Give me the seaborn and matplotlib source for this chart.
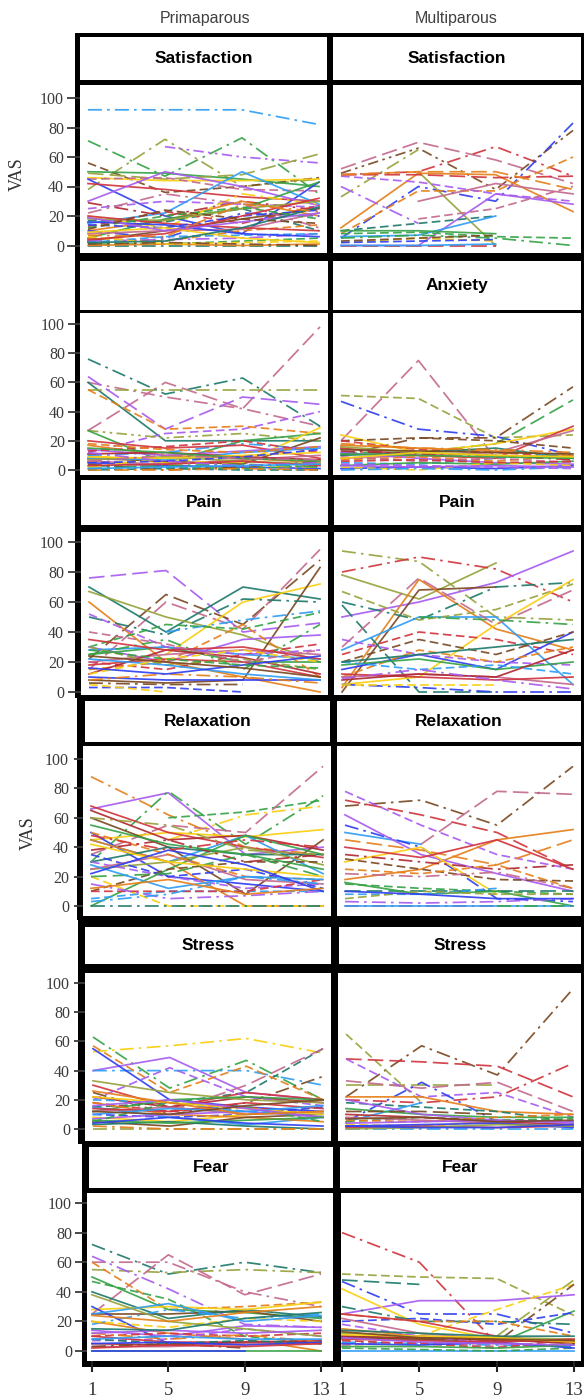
import numpy as np
import pandas as pd
import matplotlib
matplotlib.use("Agg")
import matplotlib.pyplot as plt
import seaborn as sns
from matplotlib.patches import Rectangle

N = np.nan

# ---------------- data ----------------
times = [1, 5, 9, 13]
x_tick_labels = ["1", "5", "9", "13"]
y_ticks = [0, 20, 40, 60, 80, 100]
groups = ["Primaparous", "Multiparous"]
measures = ["Satisfaction", "Anxiety", "Pain", "Relaxation", "Stress", "Fear"]

sat_prim = [
    [92, 92, 92, 82], [71, 47, 73, 35], [38, 72, 40, 45], [N, 67, 60, 56],
    [56, 36, 40, 46], [50, 49, 45, 40], [49, 45, 48, 62], [46, 44, 44, 45],
    [45, 46, 38, 37], [45, 20, 8, 43], [42, 38, 33, 30], [29, 20, 30, 24],
    [30, 50, 40, 27], [25, 30, 28, 26], [15, 22, 50, 28], [10, 17, 30, 20],
    [5, 18, 25, 43], [17, 16, 25, 10], [20, 12, 35, 28], [13, 23, 15, 27],
    [10, 5, 22, 20], [3, 10, 18, 25], [8, 10, 11, 22], [18, 17, 25, 30],
    [5, 3, 10, 14], [3, 4, 5, 8], [2, 6, 7, 8], [1, 1, 3, 5],
    [0, 0, 0, 0], [0, 1, 0, 1], [6, 1, 2, 3], [1, 2, 1, 0],
    [20, 15, 12, 10], [14, 12, 20, 24], [22, 35, 28, 12],
    [16, 14, 8, 6], [12, 20, 26, 18], [4, 8, 20, 32], [9, 12, 5, 2],
    [19, 10, 16, 22], [2, 3, 12, 26], [7, 6, 28, 23], [11, 24, 18, 15],
]
sat_multi = [
    [52, 70, 58, 42], [48, 50, 67, 47], [49, 66, 38, 78], [5, 40, 30, 83],
    [33, 65, N, N], [N, 50, 0, N], [12, 49, 48, 23], [8, 37, 37, 60],
    [48, 48, 46, 47], [40, 15, N, N], [0, 0, 35, 28], [47, 43, 35, 30],
    [N, 18, 25, 40], [10, 15, 20, N], [6, 7, 20, N], [8, 9, 6, 5],
    [5, 7, 5, 0], [0, 0, 0, N], [0, 0, 1, N], [2, 5, 3, N],
    [3, 5, 7, N], [N, 30, 42, 35], [48, 50, 50, 38], [10, 10, 8, N],
    [2, 3, 4, N],
]
anx_prim = [
    [27, 60, 42, 98], [60, 50, 42, 30], [76, 52, 63, 30], [60, 20, 20, 20],
    [55, 55, 55, 55], [64, 28, 50, 45], [12, 25, 28, 40], [55, 28, 30, 25],
    [27, 22, 25, 20], [27, 5, 20, 25], [10, 5, 5, 29], [10, 12, 18, 14],
    [20, 15, 17, 8], [17, 10, 8, 5], [8, 6, 4, 22], [5, 3, 2, 1],
    [3, 2, 1, 3], [14, 10, 13, 16], [13, 16, 20, 12], [6, 4, 7, 10],
    [2, 8, 3, 2], [0, 1, 0, 0], [8, 7, 12, 15], [4, 0, 2, 6],
    [11, 12, 9, 7], [1, 3, 4, 2], [0, 0, 1, 0], [7, 9, 6, 4],
    [9, 8, 10, 12], [15, 12, 8, 6], [5, 6, 9, 14], [3, 4, 6, 3],
    [12, 6, 3, 5], [18, 14, 12, 16], [1, 2, 3, 4], [6, 10, 8, 7],
]
anx_multi = [
    [20, 75, 8, N], [51, 49, 22, 24], [47, 28, 23, 10], [10, 22, 22, 57],
    [12, 12, 18, 48], [24, 12, 18, 28], [15, 10, 8, 30], [8, 10, 12, 27],
    [20, 22, 20, 15], [20, 14, 12, 9], [17, 15, 13, 10], [12, 8, 5, 4],
    [10, 12, 15, 8], [5, 4, 8, 12], [3, 5, 4, 6], [1, 2, 1, 3],
    [7, 9, 6, 10], [13, 11, 10, 7], [2, 0, 5, 3], [16, 12, 10, 9],
    [0, 1, 0, 2], [9, 6, 8, 5], [4, 3, 2, 1],
    [14, 13, 12, 11], [11, 10, 9, 8], [6, 7, 5, 6], [18, 15, 14, 12],
    [3, 2, 3, 2], [8, 12, 10, 9],
]
pain_prim = [
    [76, 81, 40, 46], [22, 65, 45, 88], [15, 60, 42, 95], [70, 40, 70, 62],
    [67, 50, 38, 20], [N, 25, 60, 72], [8, 6, 8, 83], [60, 20, 10, 0],
    [50, 38, 62, 60], [N, 40, 48, 54], [30, 45, 42, 53], [30, 20, 35, 38],
    [25, 30, 20, 20], [20, 15, 25, 32], [28, 30, 25, 22], [10, 8, 8, 8],
    [15, 20, 45, 10], [20, 25, 28, 25], [3, 3, 0, N], [5, 0, N, N],
    [18, 22, 20, 10], [6, 5, 5, N], [25, 35, 15, 45], [12, 28, 23, 12],
    [52, 30, 25, 28], [30, 18, 22, 15], [8, 12, 10, 6],
    [22, 18, 12, 8], [35, 28, 30, 22], [12, 22, 28, 20], [16, 12, 18, 24],
    [40, 32, 20, 28], [24, 20, 16, 10], [28, 22, 18, 16],
]
pain_multi = [
    [94, 87, 50, 48], [78, 62, 86, N], [80, 90, 82, 60], [50, 60, 73, 94],
    [0, 68, 70, N], [3, 75, 42, 28], [60, 48, 70, 73], [58, 0, 0, N],
    [28, 50, 50, 5], [67, 48, 55, 72], [5, 10, 45, 75], [30, 76, 45, 68],
    [N, 50, 48, 45], [25, 40, 35, 25], [15, 25, 15, 40], [20, 35, 25, 40],
    [35, 25, 20, 18], [10, 28, 20, 30], [5, 3, 0, 0], [5, 5, 5, N],
    [18, 22, 15, 20], [10, 12, 10, 5], [12, 10, 8, 10], [8, 12, 10, 28],
    [20, 15, 18, 12], [9, 15, 8, 2], [20, 25, 30, 35],
]
relax_prim = [
    [88, 62, 40, 35], [66, 77, 35, 40], [30, 78, 42, 75], [N, 60, 64, 72],
    [N, 45, 62, 68], [35, 55, 50, 95], [45, 50, 47, 52], [68, 50, 40, 33],
    [65, 45, 48, 38], [60, 40, 8, 45], [50, 20, 15, 10], [45, 30, 48, 22],
    [45, 30, 0, 0], [30, 40, 35, 35], [0, 25, 48, 35], [25, 30, 40, 28],
    [10, 25, 30, 30], [30, 20, 12, 15], [20, 0, 0, 0], [0, 0, 0, 0],
    [5, 10, 10, 10], [35, 20, 25, 12], [10, 10, 10, 18], [25, 35, 18, 15],
    [50, 35, 20, 18], [38, 45, 30, 35], [20, 22, 35, 20], [15, 5, 7, 10],
    [3, 8, 20, 15], [60, 55, 38, 35],
    [42, 30, 25, 20], [28, 12, 20, 18], [55, 42, 35, 25], [22, 38, 28, 10],
    [12, 18, 8, 12], [48, 38, 45, 40],
]
relax_multi = [
    [68, 72, 55, 95], [N, 42, 78, 76], [72, 62, 50, 25], [78, 55, 35, 25],
    [18, 25, 45, 52], [45, 38, 28, 45], [50, 42, N, N], [55, 40, 5, 3],
    [62, 35, 22, 10], [30, 40, 8, N], [35, 30, 25, 28], [32, 25, 18, 17],
    [15, 12, 10, 8], [10, 10, 10, 10], [16, 8, 10, 0], [8, 8, 12, N],
    [22, 20, 23, 12], [5, 10, 8, 8], [3, 2, 3, 5], [0, 0, 0, N],
    [0, 0, 0, 0], [N, N, 0, 0], [40, 33, 45, 25], [10, 8, 5, 5],
    [25, 22, 28, 12],
]
stress_prim = [
    [53, 57, 62, 52], [63, 28, 47, 20], [40, 49, 25, 20], [40, 40, 40, 30],
    [55, 20, 15, 12], [25, 10, 18, 36], [15, 18, 25, 55], [N, 12, 30, 55],
    [57, 25, 43, 20], [30, 15, 25, 20], [22, 15, 22, 18], [20, 42, 22, 16],
    [33, 25, 20, 18], [18, 12, 15, 10], [12, 20, 22, 20], [10, 8, 10, 15],
    [15, 8, 3, 8], [8, 5, 10, 12], [18, 10, 8, 5], [5, 2, 8, 10],
    [3, 5, 2, 0], [12, 15, 10, 12], [0, 0, 0, 0], [2, 0, 0, 0],
    [7, 10, 12, 8], [5, 18, 15, 5], [20, 18, 12, 10],
    [14, 12, 18, 14], [22, 18, 14, 10], [10, 14, 12, 16], [16, 20, 14, 8],
    [6, 4, 6, 8], [26, 18, 10, 12], [12, 10, 16, 20], [4, 8, 4, 2],
]
stress_multi = [
    [22, 57, 37, 96], [65, 18, N, N], [30, 30, 30, N], [48, 46, 43, 22],
    [20, 18, 22, 45], [33, 28, 32, 12], [48, 22, 25, 8], [5, 32, 5, N],
    [22, 22, 12, 10], [18, 15, 12, 5], [5, 18, N, N], [14, 10, 8, 8],
    [20, 10, 6, 5], [12, 12, 10, N], [5, 8, 6, 7], [3, 2, 5, 3],
    [10, 8, 5, 3], [0, 0, 0, 0], [1, 2, 1, 2], [8, 6, 4, 2],
    [2, 3, 4, 1], [6, 5, 8, 10], [0, 1, 3, 2],
    [4, 5, 6, 4], [7, 8, 5, 6], [2, 1, 1, 3],
]
fear_prim = [
    [72, 52, 60, 53], [55, 53, 55, 53], [25, 65, 38, 52], [60, 60, 40, 30],
    [64, 42, 18, 16], [60, 28, 30, 33], [50, 28, 26, 22], [47, 35, 10, 5],
    [25, 25, 27, 20], [40, 22, 28, 23], [28, 30, 28, 33], [18, 28, 22, 25],
    [30, 5, 5, N], [20, 12, 8, 0], [14, 10, 17, 16], [10, 12, 10, 12],
    [7, 8, 15, 10], [10, 6, 6, 6], [0, 0, 0, 0], [0, 0, 0, N],
    [5, 4, 6, 7], [3, 3, 5, 5], [20, 16, 22, 20], [8, 5, 7, 5],
    [25, 32, 20, 24], [3, 5, 2, N], [38, 20, 15, 10], [12, 8, 11, 6],
    [5, 6, 4, 6], [24, 20, 26, 30], [12, 14, 12, 14], [8, 10, 8, 8],
    [15, 14, 22, 26], [2, 4, 3, 5],
]
fear_multi = [
    [80, 60, 5, N], [52, 50, 49, 24], [N, N, 10, 48], [48, 45, N, N],
    [47, 25, 25, 12], [25, 34, 34, 38], [42, 18, 8, N], [N, 10, 28, 45],
    [10, 8, 6, 45], [10, 8, 5, 27], [20, 22, 18, 26], [30, 20, 20, 18],
    [25, 20, 20, 10], [25, 20, 10, 5], [22, 12, 8, 5], [9, 8, 8, 5],
    [10, 9, 7, 6], [12, 10, 9, 8], [0, 0, 0, 0], [2, 1, 0, 2],
    [15, 10, 8, 7], [18, 10, 5, 3], [6, 5, 4, 3], [4, 6, 3, 5],
    [7, 5, 2, 8], [14, 12, 10, 10], [5, 4, 6, 2],
    [8, 7, 6, 8], [11, 10, 9, 6], [13, 9, 8, 7], [3, 3, 2, 4], [9, 6, 5, 4],
]

# ---------------- styles (colour letter + dash code per line) ----------------
sat_prim_sty = ("b. g. o. p: nd g- oD y- md u- r- d. p- pd b- a- g- td y. rd u. n- m- o- "
                "ad p. bd gd t. a- yd n. r- ud m. u- gd r- y- p- t- a. nd")
sat_multi_sty = "mD r. n: u. o. o- a- ad rD p. p- pd md td b- gd g. rD b- yd nd m- aD g- ud"
anx_prim_sty = ("mD m. t. t- o. pD pd ad o: g- y- b. r- a- n- u- gd p- rd m- y. td b- n. "
                "d- g. a. o- y- g- ud r- p. ad b- m.")
anx_multi_sty = ("mD od u. n. gD y- r- m- nd rd a- p- t- bd g- u- ad d. yd o- b. md pd "
                 "n- g- rd a. p- y-")
pain_prim_sty = ("pD nD mD t- o- y- n- a- t. b. gd p- g- rd b- u- ad m- ud yd r- n. g. "
                 "d- pd od a. b- r- yd u- md n- gd")
pain_multi_sty = ("o. o- r. p- n- a- t. tD b- od y- mD g. rd u- nd pd ad u. yd g- m- r- "
                  "d- bd p. t-")
relax_prim_sty = ("a. p- g. gd y. mD y- r- d- n- u- b- a- t- g- o- nd pd yd t. bd ud rd "
                  "m- ad d. gD p. b. o. y- b- g- u- a- r.")
relax_multi_sty = "n. mD rD pd a- aD b- u. p- y- d. nd gd tD g- bd m. od p. r. b- g. r- u- ad"
stress_prim_sty = ("y. g. p- b. u- n. td mD ad r- d- pd o- rd g- ud b- y- a- n- t- m- o. "
                   "a. p- gd bd r- y- b- p- g- a- n- u-")
stress_multi_sty = ("n. od oD rD r. mD pd u. a- td b- g- p- nD gd yd d- b. r- m- u- ad o- "
                    "p- n- u-")
fear_prim_sty = ("t. o. mD m. p. ad g- gd n- t- y- b. u- a- p- rd pd r- g- u- d- m- yd "
                 "td b- n. o- a. u- a- p- b- t- r-")
fear_multi_sty = ("r. od o. tD u. p- y- yd n. g- ud t. ad r- m- n- d- o- b- gd a- pd b. "
                  "md rd t- u- r- y- n- g- p-")

COLORS = {
    "b": "#2f9df4", "g": "#36a347", "p": "#a85cf0", "n": "#7b4a24",
    "r": "#d1363e", "o": "#98a33d", "m": "#c46a8f", "a": "#e5801c",
    "t": "#1f7b6c", "y": "#f9cf12", "u": "#3140f0", "d": "#b02a32",
}
DASHES = {
    "-": "",
    "d": (5, 2.5),
    "D": (9, 3.5),
    ".": (8, 3, 1.5, 3),
    ":": (6, 2.5, 1.5, 2.5, 1.5, 2.5),
}

panels = [
    [(sat_prim, sat_prim_sty), (sat_multi, sat_multi_sty)],
    [(anx_prim, anx_prim_sty), (anx_multi, anx_multi_sty)],
    [(pain_prim, pain_prim_sty), (pain_multi, pain_multi_sty)],
    [(relax_prim, relax_prim_sty), (relax_multi, relax_multi_sty)],
    [(stress_prim, stress_prim_sty), (stress_multi, stress_multi_sty)],
    [(fear_prim, fear_prim_sty), (fear_multi, fear_multi_sty)],
]

# ---------------- layout (pixel geometry, top-left origin) ----------------
W, H = 584, 1400
rows_geom = [
    dict(bt=33, bb=257, bl=75, st=37, sb=80, pt=85, pb=253, y100=98, y0=245.5,
         L=(80, 327, 80, 327), R=(333, 581, 333, 581), tick_end=67, pad=3),
    dict(bt=257, bb=477, bl=75, st=261, sb=310, pt=313, pb=475, y100=324, y0=470,
         L=(80, 328, 80, 328), R=(333, 581, 333, 581), tick_end=68, pad=3),
    dict(bt=477, bb=698, bl=75, st=480, sb=525, pt=532, pb=695, y100=542, y0=692,
         L=(81, 328, 81, 328), R=(334, 581, 334, 581), tick_end=68, pad=4),
    dict(bt=698, bb=920, bl=77, st=701, sb=742, pt=746, pb=916, y100=759, y0=906,
         L=(85, 330, 83, 331), R=(337, 581, 337, 581), tick_end=74, pad=5),
    dict(bt=920, bb=1144, bl=78, st=927, sb=964, pt=973, pb=1141, y100=983, y0=1129,
         L=(85, 331, 85, 331), R=(339, 581, 338, 581), tick_end=74, pad=4),
    dict(bt=1144, bb=1367, bl=82, st=1147, sb=1188, pt=1193, pb=1361, y100=1203, y0=1351,
         L=(89, 333, 87, 333), R=(340, 581, 341, 581), tick_end=75, pad=3),
]
bottom_x_anchor = [(92, 321), (342, 574)]

plt.rcParams["font.family"] = ["Liberation Serif", "DejaVu Serif"]
PT = 0.72  # points per pixel at dpi 100

fig = plt.figure(figsize=(W / 100, H / 100), dpi=100)


def frect(x0, y0, x1, y1):
    return [x0 / W, 1 - y1 / H, (x1 - x0) / W, (y1 - y0) / H]


def clean(ax):
    for s in ax.spines.values():
        s.set_visible(False)
    ax.set_xticks([])
    ax.set_yticks([])
    ax.set_facecolor("white")


for r, g in enumerate(rows_geom):
    fig.add_artist(Rectangle((g["bl"] / W, 1 - g["bb"] / H), (W - g["bl"]) / W,
                             (g["bb"] - g["bt"]) / H, transform=fig.transFigure,
                             facecolor="black", edgecolor="none", zorder=-10))
    for c in range(2):
        sx0, sx1, px0, px1 = g["L"] if c == 0 else g["R"]
        # strip with panel title
        axs = fig.add_axes(frect(sx0, g["st"], sx1, g["sb"]))
        clean(axs)
        axs.set_xlim(0, 1)
        axs.set_ylim(0, 1)
        axs.text(0.5, 0.5, measures[r], ha="center", va="center",
                 fontsize=12.5, fontweight="bold", family=["Liberation Sans", "DejaVu Sans"],
                 color="black")

        # data panel
        ax = fig.add_axes(frect(px0, g["pt"], px1, g["pb"]))
        values, sty = panels[r][c]
        codes = sty.split()
        assert len(codes) == len(values), (r, c, len(codes), len(values))
        recs = []
        for i, row in enumerate(values):
            for t, v in zip(times, row):
                if not np.isnan(v):
                    recs.append((f"s{i:02d}", t, v))
        df = pd.DataFrame(recs, columns=["subject", "time", "vas"])
        subjects = [f"s{i:02d}" for i in range(len(values))]
        pal = {s: COLORS[code[0]] for s, code in zip(subjects, codes)}
        dsh = {s: DASHES[code[1]] for s, code in zip(subjects, codes)}
        sns.lineplot(data=df, x="time", y="vas", hue="subject", style="subject",
                     hue_order=subjects, style_order=subjects,
                     palette=pal, dashes=dsh, estimator=None, errorbar=None,
                     legend=False, linewidth=1.25, alpha=0.92, ax=ax)
        clean(ax)
        ax.set_xlabel("")
        ax.set_ylabel("")

        # axis limits from pixel geometry
        scale = (g["y0"] - g["y100"]) / 100.0
        ax.set_ylim(-(g["pb"] - g["y0"]) / scale, 100 + (g["y100"] - g["pt"]) / scale)
        if r == len(rows_geom) - 1:
            p1, p13 = bottom_x_anchor[c]
        else:
            p1, p13 = px0 + 8, px1 - 8
        per = (p13 - p1) / 12.0
        ax.set_xlim(1 - (p1 - px0) / per, 13 + (px1 - p13) / per)

        if c == 0:
            ax.set_yticks(y_ticks)
            ax.set_yticklabels([str(v) for v in y_ticks])
            ax.tick_params(axis="y", direction="out", length=(px0 - g["tick_end"]) * PT,
                           width=1.3, color="#3a3a3a", pad=g["pad"] * PT,
                           labelsize=11.5, labelcolor="#3a3a3a")
        if r == len(rows_geom) - 1:
            ax.set_xticks(times)
            ax.set_xticklabels(x_tick_labels)
            ax.tick_params(axis="x", direction="out", length=(1372 - g["pb"]) * PT,
                           width=1.5, color="#222222", pad=10 * PT,
                           labelsize=13.5, labelcolor="#333333")

# column headers
for c, (label, xc) in enumerate(zip(groups, [205, 456])):
    fig.text(xc / W, 1 - 18 / H, label, ha="center", va="center", fontsize=11.5,
             family=["Liberation Sans", "DejaVu Sans"], color="#404040")

# y-axis titles
for (xc, yc) in [(17, 174), (28, 833)]:
    fig.text(xc / W, 1 - yc / H, "VAS", rotation=90, ha="center", va="center",
             fontsize=13, color="#333333")

fig.savefig("out.png", dpi=100)
